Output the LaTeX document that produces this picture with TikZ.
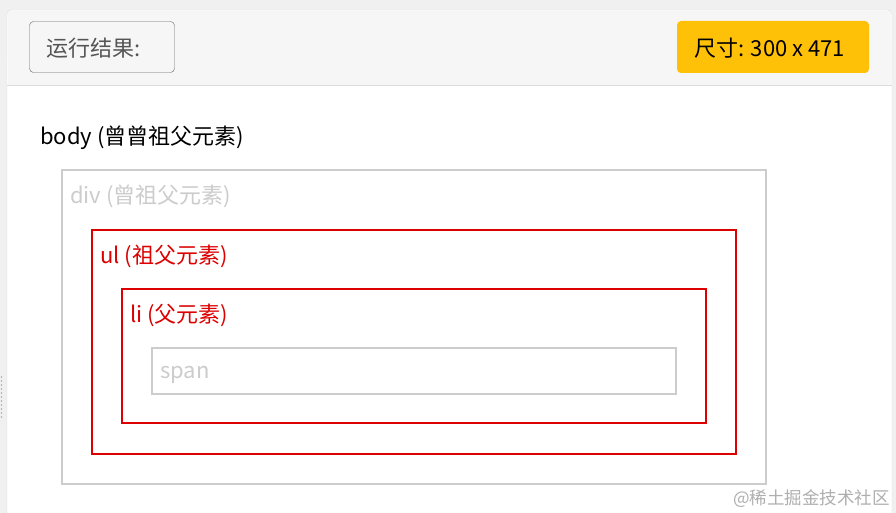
\documentclass[tikz,border=0pt]{standalone}
\usepackage{fontspec}
\setmainfont{Noto Sans CJK SC}
\definecolor{pageGray}{RGB}{240,240,240}
\definecolor{headGray}{RGB}{246,246,246}
\definecolor{lineGray}{RGB}{221,221,221}
\definecolor{boxGray}{RGB}{204,204,204}
\definecolor{btnGray}{RGB}{102,102,102}
\definecolor{txtGray}{RGB}{85,85,85}
\definecolor{badgeYellow}{RGB}{255,193,7}
\definecolor{tagRed}{RGB}{220,0,0}
\definecolor{markGray}{RGB}{175,175,175}
\tikzset{
  lbl/.style={anchor=west,inner sep=0pt,font=\fontsize{22}{26}\selectfont},
  grayBox/.style={draw=boxGray,line width=2pt},
  redBox/.style={draw=tagRed,line width=2pt}
}
\begin{document}
\begin{tikzpicture}[x=1pt,y=1pt,yscale=-1,xscale=1]
\useasboundingbox (0,0) rectangle (896,513);
\fill[pageGray] (0,0) rectangle (896,513);

%Shape: Card
\draw[lineGray,fill=white,rounded corners=4] (7,10) rectangle (892,540);
%Shape: Header band
\fill[headGray,rounded corners=4] (7.5,10.5) rectangle (891.5,60);
\fill[headGray] (7.5,40) rectangle (891.5,85);
\draw[lineGray] (7,85) -- (892,85);

%Shape: Button
\draw[btnGray,fill=headGray,rounded corners=4] (29.5,21.5) rectangle (174.5,72.5);
% Text Node
\node[lbl,text=txtGray] (result) at (46,48.5) {运行结果:};

%Shape: Badge
\fill[badgeYellow,rounded corners=4] (677,21) rectangle (869,73);
% Text Node
\node[lbl,text=black] (size) at (694,48.5) {尺寸: 300 x 471};

% Text Node
\node[lbl,text=black] (body) at (40,137.5) {body (曾曾祖父元素)};

%Shape: Rectangle div
\draw[grayBox] (62,170) rectangle (766,484);
\node[lbl,text=boxGray] (div) at (70,196.5) {div (曾祖父元素)};
%Shape: Rectangle ul
\draw[redBox] (92,229.5) rectangle (736,454);
\node[lbl,text=tagRed] (ul) at (100,256.5) {ul (祖父元素)};
%Shape: Rectangle li
\draw[redBox] (122,289) rectangle (706,423);
\node[lbl,text=tagRed] (li) at (130,315.5) {li (父元素)};
%Shape: Rectangle span
\draw[grayBox] (152,348) rectangle (676,394);
\node[lbl,text=boxGray] (span) at (160,375) {span};

%Shape: Drag handle
\foreach \y in {377,381,...,417} \fill[markGray] (1.5,\y) circle (0.8);

% Text Node
\node[anchor=east,inner sep=0pt,text=markGray,font=\fontsize{17.5}{20}\selectfont] (mark) at (890,499) {@稀土掘金技术社区};
\end{tikzpicture}
\end{document}
